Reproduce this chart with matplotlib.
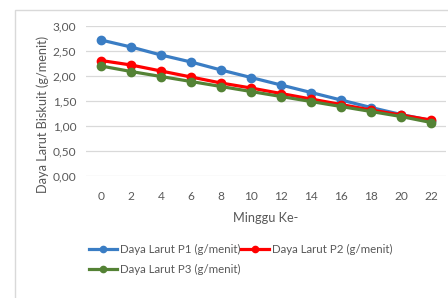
import matplotlib.pyplot as plt
from matplotlib.patches import Rectangle

plt.rcParams['font.family'] = ['Lato', 'DejaVu Sans']

weeks = ['0', '2', '4', '6', '8', '10', '12', '14', '16', '18', '20', '22']
p1 = [2.72, 2.58, 2.42, 2.28, 2.12, 1.97, 1.82, 1.67, 1.52, 1.37, 1.23, 1.11]
p2 = [2.31, 2.22, 2.10, 1.98, 1.86, 1.76, 1.65, 1.54, 1.43, 1.32, 1.22, 1.12]
p3 = [2.20, 2.09, 1.99, 1.89, 1.79, 1.69, 1.59, 1.49, 1.39, 1.29, 1.19, 1.07]
names = ['Daya Larut P1 (g/menit)', 'Daya Larut P2 (g/menit)', 'Daya Larut P3 (g/menit)']
colors = ['#3A7DC4', '#FF0000', '#548235']
grey = '#595959'

fig = plt.figure(figsize=(4.48, 2.98), dpi=100)
ax = fig.add_axes([86 / 448, 1 - 176 / 298, 360 / 448, 150 / 298])

# chart frame like the Excel chart area
fig.patches.append(Rectangle((15 / 448, -0.1), 1.2, 1 - 10 / 298 + 0.1, transform=fig.transFigure,
                             fill=False, edgecolor='#D9D9D9', linewidth=1.0))

x = list(range(len(weeks)))
lines = []
for vals, name, c in zip([p1, p2, p3], names, colors):
    ln, = ax.plot(x, vals, color=c, linewidth=2.3, marker='o', markersize=6, label=name)
    lines.append(ln)

ax.set_xlim(-0.5, len(weeks) - 0.5)
ax.set_ylim(0, 3.0)
yt = [0, 0.5, 1.0, 1.5, 2.0, 2.5, 3.0]
ax.set_yticks(yt)
ax.set_yticklabels([('%.2f' % v).replace('.', ',') for v in yt])
ax.set_xticks(x)
ax.set_xticklabels(weeks)
ax.tick_params(length=0, labelsize=8.6, colors=grey, pad=7)
ax.tick_params(axis='x', pad=11)
ax.grid(axis='y', color='#D9D9D9', linewidth=0.9)
ax.set_axisbelow(True)
for s in ax.spines.values():
    s.set_visible(False)

ax.set_xlabel('Minggu Ke-', fontsize=9.2, color=grey, labelpad=7)
fig.text(43 / 448, 1 - 114 / 298, 'Daya Larut Biskuit (g/menit)', rotation=90,
         ha='center', va='center', fontsize=9.2, color=grey)

fig.legend([lines[0], lines[2], lines[1]], [names[0], names[2], names[1]],
           ncol=2, frameon=False, loc='upper left', bbox_to_anchor=(89 / 448, 1 - 244 / 298),
           fontsize=8.3, labelcolor=grey, handlelength=2.4, handletextpad=0.25,
           columnspacing=0.1, labelspacing=0.75, borderaxespad=0, borderpad=0,
           markerscale=0.75)

fig.savefig('out.png', dpi=100)
